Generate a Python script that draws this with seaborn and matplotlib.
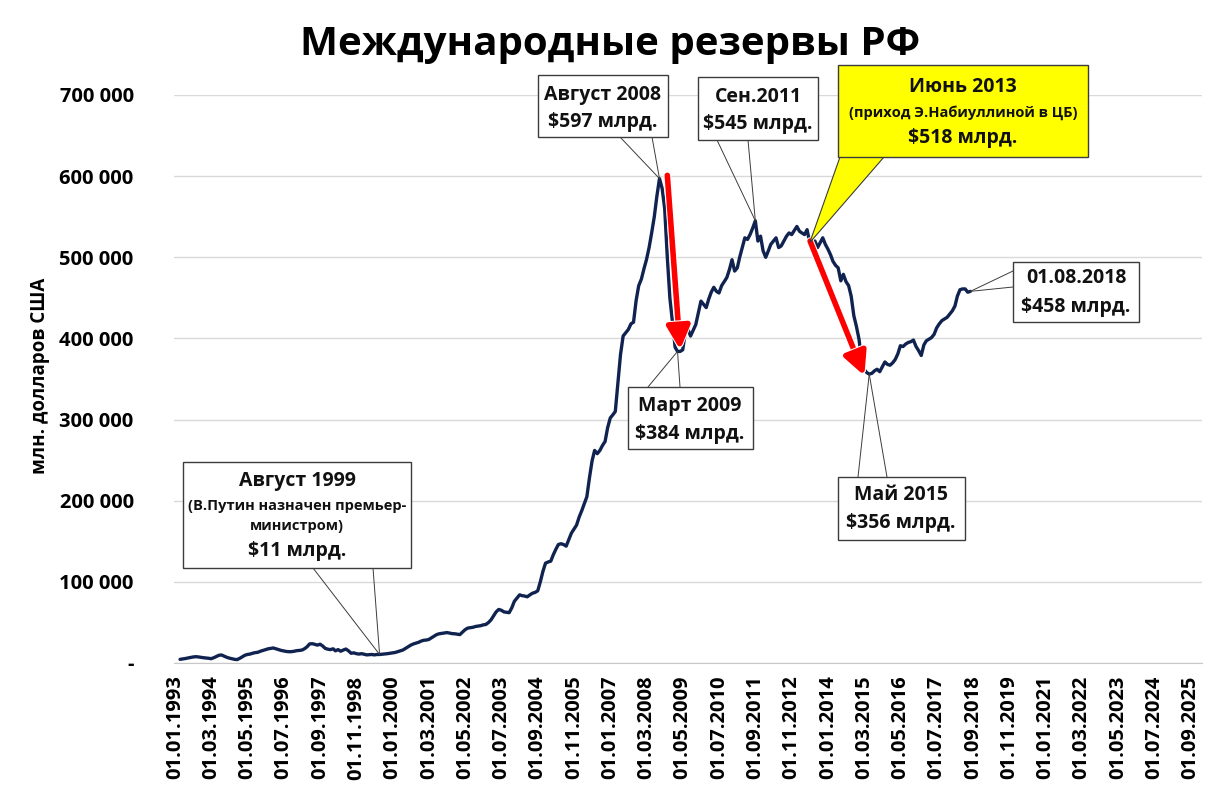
import numpy as np
import pandas as pd
import matplotlib
matplotlib.use("Agg")
import matplotlib.pyplot as plt
import matplotlib.patheffects as pe
from matplotlib.patches import Rectangle, Polygon
import seaborn as sns

# ---------------- data (billion USD, start of month, from 1993-03) ----------------
first_month = "1993-03-01"
res_1993 = [4.5, 5.0, 5.5, 6.2, 6.8, 7.4, 7.8, 7.5, 7.0, 6.5]
res_1994 = [6.2, 5.8, 5.3, 6.5, 8.0, 9.5, 9.9, 8.5, 7.0, 6.0, 5.2, 4.5]
res_1995 = [4.2, 5.8, 7.5, 9.5, 10.5, 11.0, 12.0, 12.8, 13.2, 14.5, 15.5, 16.5]
res_1996 = [17.5, 18.0, 18.5, 17.5, 16.5, 15.5, 14.8, 14.2, 13.9, 14.0, 14.5, 15.2]
res_1997 = [15.5, 16.0, 17.5, 20.0, 23.5, 23.8, 23.0, 22.0, 23.2, 21.0, 18.0, 17.0]
res_1998 = [16.5, 17.5, 15.0, 16.5, 14.5, 16.0, 17.2, 15.0, 12.0, 12.5, 11.5, 11.0]
res_1999 = [11.5, 10.8, 10.0, 10.3, 10.5, 10.0, 10.5, 10.5, 10.8, 11.0, 11.5, 12.0]
res_2000 = [12.5, 13.0, 14.0, 15.0, 16.0, 18.0, 20.0, 22.0, 23.5, 24.5, 25.5, 27.0]
res_2001 = [28.0, 28.3, 29.0, 31.0, 33.0, 35.0, 36.0, 36.5, 37.0, 37.5, 36.8, 36.2]
res_2002 = [36.0, 35.5, 35.0, 38.0, 41.0, 43.0, 43.5, 44.0, 45.0, 45.5, 46.0, 47.0]
res_2003 = [47.5, 50.0, 53.0, 58.0, 63.0, 66.0, 65.0, 63.0, 62.5, 62.0, 68.0, 76.0]
res_2004 = [80.0, 84.0, 83.0, 82.5, 81.6, 84.0, 86.0, 87.0, 89.0, 100.0, 113.0, 123.0]
res_2005 = [124.5, 125.5, 133.0, 140.0, 146.0, 147.0, 146.0, 144.0, 152.0, 160.0, 165.0, 170.0]
res_2006 = [180.0, 188.0, 196.0, 205.0, 228.0, 249.0, 262.0, 258.0, 262.0, 268.0, 273.0, 290.0]
res_2007 = [302.0, 306.0, 310.0, 345.0, 380.0, 403.0, 407.0, 411.0, 418.0, 420.0, 447.0, 465.0]
res_2008 = [473.0, 486.0, 497.0, 512.0, 530.0, 550.0, 575.0, 597.0, 585.0, 560.0, 500.0, 450.0]
res_2009 = [420.0, 389.0, 384.0, 384.0, 386.0, 408.0, 411.0, 403.0, 410.0, 417.0, 432.0, 446.0]
res_2010 = [442.0, 438.0, 448.0, 457.0, 463.0, 458.0, 456.0, 465.0, 470.0, 475.0, 485.0, 497.0]
res_2011 = [483.0, 487.0, 500.0, 512.0, 524.0, 522.0, 528.0, 536.0, 545.0, 520.0, 526.0, 508.0]
res_2012 = [500.0, 508.0, 516.0, 520.0, 524.0, 512.0, 514.0, 520.0, 526.0, 530.0, 528.0, 533.0]
res_2013 = [538.0, 532.0, 530.0, 528.0, 534.0, 518.0, 514.0, 520.0, 512.0, 518.0, 524.0, 516.0]
res_2014 = [510.0, 503.0, 495.0, 490.0, 487.0, 471.0, 479.0, 470.0, 465.0, 452.0, 428.0, 415.0]
res_2015 = [399.0, 372.0, 362.0, 358.0, 356.0, 357.0, 360.0, 362.0, 359.0, 365.0, 371.0, 368.0]
res_2016 = [367.0, 370.0, 374.0, 381.0, 391.0, 390.0, 393.0, 395.0, 396.0, 398.0, 390.0, 385.0]
res_2017 = [379.0, 392.0, 397.0, 399.0, 401.0, 405.0, 413.0, 418.0, 422.0, 424.0, 426.0, 430.0]
res_2018 = [434.0, 440.0, 452.0, 460.0, 461.0, 461.0, 457.0, 458.0]

yearly = [res_1993, res_1994, res_1995, res_1996, res_1997, res_1998, res_1999,
          res_2000, res_2001, res_2002, res_2003, res_2004, res_2005, res_2006,
          res_2007, res_2008, res_2009, res_2010, res_2011, res_2012, res_2013,
          res_2014, res_2015, res_2016, res_2017, res_2018]
values_bn = [v for yr in yearly for v in yr]
dates = pd.date_range(first_month, periods=len(values_bn), freq="MS")
df = pd.DataFrame({"date": dates, "reserves": np.array(values_bn) * 1000.0})

y_ticks = [0, 100000, 200000, 300000, 400000, 500000, 600000, 700000]
y_ticklabels = ["-", "100 000", "200 000", "300 000", "400 000", "500 000", "600 000", "700 000"]
x_ticks = pd.date_range("1993-01-01", "2025-09-01", freq="14MS")
x_ticklabels = [d.strftime("%d.%m.%Y") for d in x_ticks]

title = "Международные резервы РФ"
ylabel = "млн. долларов США"

# callouts: (date, lines)
callouts = {
    "1999-08-01": ["Август 1999", "(В.Путин назначен премьер-", "министром)", "$11 млрд."],
    "2008-08-01": ["Август 2008", "$597 млрд."],
    "2011-09-01": ["Сен.2011", "$545 млрд."],
    "2013-06-01": ["Июнь 2013", "(приход Э.Набиуллиной в ЦБ)", "$518 млрд."],
    "2009-03-01": ["Март 2009", "$384 млрд."],
    "2015-05-01": ["Май 2015", "$356 млрд."],
    "2018-08-01": ["01.08.2018", "$458 млрд."],
}
drops = [("2008-11-01", 601000, "2009-04-01", 386000),
         ("2013-06-05", 520000, "2015-03-05", 354000)]

# ---------------- figure ----------------
sns.set_style("white")
plt.rcParams["font.family"] = ["Open Sans", "DejaVu Sans"]
plt.rcParams["text.color"] = "black"
plt.rcParams["xtick.color"] = "black"
plt.rcParams["ytick.color"] = "black"

W, H = 1221, 798
fig = plt.figure(figsize=(W / 100, H / 100), dpi=100)
L, R, T, B = 174, 1202, 95, 663
ax = fig.add_axes([L / W, 1 - B / H, (R - L) / W, (B - T) / H])

sns.lineplot(data=df, x="date", y="reserves", ax=ax, color="#10224f", lw=2.4, zorder=3)

ax.set_xlim(pd.Timestamp("1992-12-20"), pd.Timestamp("2026-01-12"))
ax.set_ylim(0, 700000)
ax.set_yticks(y_ticks)
ax.set_yticklabels(y_ticklabels, fontsize=14.5, fontweight="bold")
ax.set_xticks(x_ticks)
ax.set_xticklabels(x_ticklabels, rotation=90, fontsize=14.5, fontweight="bold")
ax.set_xlabel("")
ax.set_ylabel("")
ax.yaxis.grid(True, color="#d9d9d9", lw=1.0)
ax.xaxis.grid(False)
ax.set_axisbelow(True)
for s in ["left", "top", "right"]:
    ax.spines[s].set_visible(False)
ax.spines["bottom"].set_color("#c8c8c8")
ax.tick_params(axis="x", direction="out", length=6, color="#c8c8c8", pad=3)
ax.tick_params(axis="y", length=3, color="#d9d9d9", pad=26)

fig.text(610 / W, 1 - 45 / H, title, ha="center", va="center", fontsize=29, fontweight="bold")
fig.text(40 / W, 1 - 376 / H, ylabel, ha="center", va="center", rotation=90,
         fontsize=13.5, fontweight="bold")


def fp(x, y):
    return (x / W, 1 - y / H)


def draw_box(x0, y0, x1, y1, fc="white"):
    fig.patches.append(Rectangle(fp(x0, y1), (x1 - x0) / W, (y1 - y0) / H,
                                 transform=fig.transFigure, fc=fc, ec="#3c3c3c",
                                 lw=1.0, zorder=6))


def draw_text(lines, cx, ys, sizes):
    for t, y, s in zip(lines, ys, sizes):
        fig.text(cx / W, 1 - y / H, t, ha="center", va="center", fontsize=s,
                 fontweight="bold", color="#111111", zorder=7)


def leader(date, px, py):
    val = df.loc[df["date"] == pd.Timestamp(date), "reserves"].iloc[0]
    ax.annotate("", xy=(pd.Timestamp(date), val), xycoords="data",
                xytext=fp(px, py), textcoords="figure fraction",
                arrowprops=dict(arrowstyle="-", lw=0.7, color="#3c3c3c",
                                shrinkA=0, shrinkB=0), zorder=4)


# red arrows
for sd, sv, ed, ev in drops:
    ax.annotate("", xy=(pd.Timestamp(ed), ev), xytext=(pd.Timestamp(sd), sv),
                arrowprops=dict(arrowstyle="-|>,head_length=0.7,head_width=0.35",
                                mutation_scale=20, color="#ff0000", lw=4.0,
                                shrinkA=0, shrinkB=0,
                                path_effects=[pe.Stroke(linewidth=5.5, foreground="white"), pe.Normal()]),
                zorder=5)

big, small = 14, 10.5

# Aug 1999
d = "1999-08-01"
leader(d, 313, 568); leader(d, 373, 568)
draw_box(183, 462, 411, 568)
draw_text(callouts[d], 297, [481, 506, 526, 551], [big, small, small, big])

# Aug 2008
d = "2008-08-01"
leader(d, 620, 137); leader(d, 652, 137)
draw_box(538, 75, 668, 137)
draw_text(callouts[d], 603, [95, 122], [big, big])

# Sep 2011
d = "2011-09-01"
leader(d, 717, 140); leader(d, 748, 140)
draw_box(698, 77, 818, 140)
draw_text(callouts[d], 758, [97, 124], [big, big])

# Jun 2013 (yellow wedge)
d = "2013-06-01"
val = df.loc[df["date"] == pd.Timestamp(d), "reserves"].iloc[0]
fig.canvas.draw()
tip_disp = ax.transData.transform((matplotlib.dates.date2num(pd.Timestamp(d)), val))
tip_fig = fig.transFigure.inverted().transform(tip_disp)
wedge = Polygon([tip_fig, fp(840, 157), fp(884, 157)], closed=True,
                transform=fig.transFigure, fc="#ffff00", ec="#3c3c3c", lw=0.8, zorder=5)
fig.patches.append(wedge)
draw_box(838, 65, 1088, 157, fc="#ffff00")
draw_text(callouts[d], 963, [87, 113, 138], [big, small, big])

# Mar 2009
d = "2009-03-01"
leader(d, 648, 387); leader(d, 680, 387)
draw_box(628, 387, 753, 449)
draw_text(callouts[d], 690, [406, 434], [big, big])

# May 2015
d = "2015-05-01"
leader(d, 858, 477); leader(d, 887, 477)
draw_box(838, 477, 965, 540)
draw_text(callouts[d], 901, [495, 523], [big, big])

# Aug 2018
d = "2018-08-01"
leader(d, 1013, 271); leader(d, 1013, 287)
draw_box(1013, 262, 1139, 322)
draw_text(callouts[d], 1076, [278, 307], [big, big])

fig.savefig("out.png", dpi=100)
